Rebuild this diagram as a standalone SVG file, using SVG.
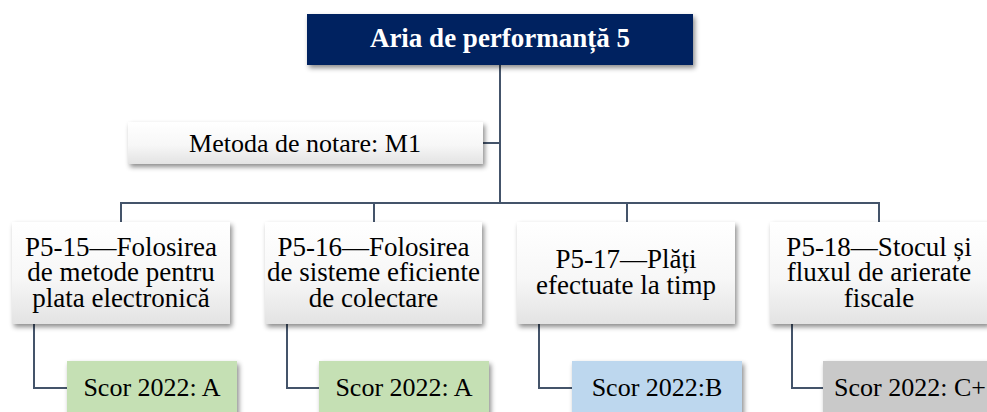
<svg xmlns="http://www.w3.org/2000/svg" width="987" height="412" viewBox="0 0 987 412">
<defs>
<linearGradient id="wg" x1="0" y1="0" x2="0" y2="1">
<stop offset="0" stop-color="#ffffff"/>
<stop offset="0.55" stop-color="#f7f7f7"/>
<stop offset="1" stop-color="#e3e3e3"/>
</linearGradient>
<filter id="sh" x="-10%" y="-20%" width="125%" height="150%">
<feDropShadow dx="2" dy="3" stdDeviation="2.5" flood-color="#000" flood-opacity="0.45"/>
</filter>
</defs>
<style>
.t{fill:#000;text-anchor:middle}
.title{font-weight:bold;fill:#fff;text-anchor:middle}
.wb{fill:url(#wg);filter:url(#sh)}
.c{fill:none;stroke:#44546A;stroke-width:2}
.green{fill:#C5E0B4;filter:url(#sh)}
.blue{fill:#BDD7EE;filter:url(#sh)}
.gray{fill:#C9C9C9;filter:url(#sh)}
</style>
<rect width="987" height="412" fill="#fff"/>
<g id="connectors">
<path class="c" d="M500 65 V203"/>
<path class="c" d="M483 143 H500"/>
<path class="c" d="M121 222 V203 H879 V222"/>
<path class="c" d="M374 203 V222"/>
<path class="c" d="M627 203 V222"/>
<path class="c" d="M34 324 V388 H67"/>
<path class="c" d="M287 324 V388 H319"/>
<path class="c" d="M539 324 V388 H572"/>
<path class="c" d="M792 324 V388 H823"/>
</g>
<g id="title">
<rect x="307" y="14" width="386" height="51" fill="#002060" filter="url(#sh)"/>
<text class="title" font-family="Liberation Serif" font-size="27" x="500" y="47">Aria de performanță 5</text>
</g>
<g id="metoda">
<rect class="wb" x="128" y="122" width="355" height="42"/>
<text class="t" font-family="Liberation Serif" font-size="26" x="305" y="152">Metoda de notare: M1</text>
</g>
<g id="p5-15">
<rect class="wb" x="12" y="222" width="218" height="102"/>
<text class="t" font-family="Liberation Serif" font-size="27" x="121" y="256">P5-15—Folosirea</text>
<text class="t" font-family="Liberation Serif" font-size="27" x="121" y="281">de metode pentru</text>
<text class="t" font-family="Liberation Serif" font-size="27" x="121" y="307">plata electronică</text>
</g>
<g id="p5-16">
<rect class="wb" x="265" y="222" width="217" height="102"/>
<text class="t" font-family="Liberation Serif" font-size="27" x="373.5" y="256">P5-16—Folosirea</text>
<text class="t" font-family="Liberation Serif" font-size="27" x="373.5" y="281">de sisteme eficiente</text>
<text class="t" font-family="Liberation Serif" font-size="27" x="373.5" y="307">de colectare</text>
</g>
<g id="p5-17">
<rect class="wb" x="517" y="222" width="218" height="102"/>
<text class="t" font-family="Liberation Serif" font-size="27" x="626" y="268">P5-17—Plăți</text>
<text class="t" font-family="Liberation Serif" font-size="27" x="626" y="294">efectuate la timp</text>
</g>
<g id="p5-18">
<rect class="wb" x="770" y="222" width="218" height="102"/>
<text class="t" font-family="Liberation Serif" font-size="27" x="879" y="256">P5-18—Stocul și</text>
<text class="t" font-family="Liberation Serif" font-size="27" x="879" y="281">fluxul de arierate</text>
<text class="t" font-family="Liberation Serif" font-size="27" x="879" y="307">fiscale</text>
</g>
<g id="scor-15">
<rect class="green" x="67" y="361" width="170" height="56"/>
<text class="t" font-family="Liberation Serif" font-size="26" x="152" y="396">Scor 2022: A</text>
</g>
<g id="scor-16">
<rect class="green" x="319" y="361" width="170" height="56"/>
<text class="t" font-family="Liberation Serif" font-size="26" x="404" y="396">Scor 2022: A</text>
</g>
<g id="scor-17">
<rect class="blue" x="572" y="361" width="170" height="56"/>
<text class="t" font-family="Liberation Serif" font-size="26" x="657" y="396">Scor 2022:B</text>
</g>
<g id="scor-18">
<rect class="gray" x="823" y="361" width="174" height="56"/>
<text class="t" font-family="Liberation Serif" font-size="26" x="910" y="396">Scor 2022: C+</text>
</g>
</svg>
